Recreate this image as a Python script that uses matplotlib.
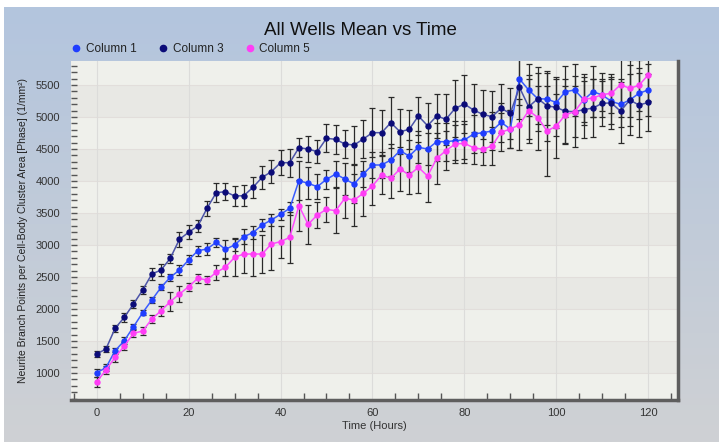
import numpy as np
import matplotlib
matplotlib.use("Agg")
import matplotlib.pyplot as plt
from matplotlib.lines import Line2D
from matplotlib.ticker import MultipleLocator

plt.rcParams['font.family'] = ['Liberation Sans', 'DejaVu Sans']

# time points (hours)
hours = np.arange(0, 122, 2)

col1 = [1005, 1083, 1348, 1505, 1723, 1942, 2141, 2339, 2495, 2609, 2766, 2911, 2937, 3042, 2933, 3000,
        3130, 3193, 3313, 3391, 3479, 3573, 4005, 3964, 3911, 4026, 4109, 4031, 3953, 4109, 4250, 4250,
        4328, 4474, 4390, 4526, 4500, 4614, 4614, 4630, 4641, 4734, 4755, 4781, 4917, 4812, 5594, 5422,
        5285, 5281, 5226, 5396, 5422, 5270, 5396, 5344, 5245, 5198, 5266, 5370, 5422]
col3 = [1297, 1375, 1698, 1870, 2078, 2297, 2547, 2609, 2792, 3089, 3198, 3297, 3573, 3817, 3833, 3766,
        3770, 3901, 4057, 4145, 4286, 4286, 4520, 4500, 4458, 4667, 4651, 4578, 4562, 4656, 4755, 4755,
        4911, 4770, 4807, 5016, 4864, 5016, 4964, 5135, 5203, 5109, 5042, 5005, 5135, 5057, 5464, 5161,
        5285, 5175, 5150, 5090, 5083, 5115, 5140, 5214, 5220, 5090, 5266, 5187, 5227]
col5 = [864, 1047, 1245, 1422, 1620, 1656, 1844, 1973, 2114, 2234, 2348, 2480, 2453, 2573, 2651, 2808,
        2859, 2859, 2859, 3016, 3052, 3120, 3614, 3323, 3469, 3557, 3536, 3729, 3703, 3807, 3922, 4094,
        4042, 4187, 4094, 4213, 4078, 4354, 4474, 4578, 4589, 4520, 4495, 4547, 4761, 4812, 4880, 5099,
        4992, 4781, 4859, 5035, 5083, 5276, 5297, 5350, 5370, 5505, 5448, 5495, 5656]

# error bar half-widths
err1 = [60, 50, 50, 50, 40, 40, 40, 50, 50, 80, 70, 80, 90, 70, 150, 90,
        120, 100, 90, 100, 90, 100, 300, 250, 200, 150, 200, 250, 300, 200, 200, 200,
        250, 300, 250, 250, 250, 300, 300, 300, 300, 300, 300, 300, 300, 300, 400, 400,
        400, 400, 400, 400, 400, 400, 400, 350, 350, 350, 400, 400, 400]
err3 = [40, 40, 50, 70, 70, 70, 90, 100, 70, 120, 110, 100, 120, 150, 130, 160,
        160, 160, 180, 180, 200, 220, 150, 200, 180, 220, 230, 220, 300, 300, 380, 350,
        400, 350, 300, 300, 350, 350, 400, 450, 450, 400, 380, 400, 380, 400, 500, 500,
        500, 550, 450, 500, 550, 450, 450, 350, 400, 500, 550, 500, 450]
err5 = [80, 60, 80, 60, 50, 70, 60, 80, 150, 120, 60, 70, 60, 120, 140, 300,
        300, 350, 300, 400, 250, 400, 400, 300, 200, 200, 350, 300, 400, 350, 300, 300,
        300, 350, 300, 400, 400, 400, 300, 300, 300, 250, 250, 300, 300, 300, 400, 500,
        500, 700, 500, 450, 400, 350, 300, 250, 300, 500, 450, 400, 400]

series = [
    ("Column 1", col1, err1, "#3a5cff", "#1f3dff"),
    ("Column 3", col3, err3, "#4c54a8", "#0b0b78"),
    ("Column 5", col5, err5, "#ff4cff", "#ff3df5"),
]

fig = plt.figure(figsize=(7.23, 4.42), dpi=100)
fig.patch.set_facecolor("white")

# gradient background panel
bg = fig.add_axes([4 / 723, 0, 715 / 723, 435 / 442])
top = np.array([179, 197, 222]) / 255
bot = np.array([207, 209, 212]) / 255
t = np.linspace(0, 1, 200)[:, None]
grad = top * (1 - t) + bot * t
bg.imshow(grad[:, None, :], aspect="auto", extent=[0, 1, 0, 1])
bg.set_axis_off()

ax = fig.add_axes([71 / 723, 42 / 442, 607 / 723, 339 / 442])
ax.set_xlim(-5.6, 126.5)
ax.set_ylim(578, 5875)

# alternating bands
ax.set_facecolor("#eff0eb")
for lo in range(1000, 5500, 1000):
    ax.axhspan(lo, lo + 500, color="#e8e8e4", zorder=0, lw=0)
for yv in range(1000, 6000, 500):
    ax.axhline(yv, color="#e2dedb", lw=0.8, zorder=0.5)
for xv in range(0, 121, 20):
    ax.axvline(xv, color="#dcdcda", lw=0.8, zorder=0.5)

for name, vals, err, lc, mc in series:
    ax.errorbar(hours, vals, yerr=err, color=lc, lw=1.1, marker="o", ms=3.6,
                mfc=mc, mec=mc, ecolor="#2a2a2a", elinewidth=0.9,
                capsize=2.5, capthick=0.9, zorder=3)

for s in ["left", "top"]:
    ax.spines[s].set_visible(False)
for s in ["bottom", "right"]:
    ax.spines[s].set_color("#5e5e5e")
    ax.spines[s].set_linewidth(2.5)

ax.xaxis.set_major_locator(MultipleLocator(20))
ax.xaxis.set_minor_locator(MultipleLocator(5))
ax.yaxis.set_major_locator(MultipleLocator(500))
ax.yaxis.set_minor_locator(MultipleLocator(100))
ax.set_yticks(range(1000, 6000, 500))
ax.tick_params(axis="x", which="major", length=0, pad=6, labelsize=8, labelcolor="#333333")
ax.tick_params(axis="x", which="minor", direction="in", length=5, color="#555555", width=1)
ax.tick_params(axis="y", which="both", direction="in", length=4, color="#555555", width=1,
               labelsize=8, labelcolor="#333333", pad=8)

ax.set_xlabel("Time (Hours)", fontsize=8, color="#333333", labelpad=2)
ax.set_ylabel("Neurite Branch Points per Cell-Body Cluster Area [Phase] (1/mm\u00b2)",
              fontsize=7.5, color="#222222")
ax.yaxis.set_label_coords(-0.071, 0.5)

fig.text(0.498, 0.932, "All Wells Mean vs Time", ha="center", va="center",
         fontsize=13.5, color="#111111")

handles = [Line2D([], [], ls="none", marker="o", ms=4.5, color=mc, mec=mc) for _, _, _, _, mc in series]
fig.legend(handles, [s[0] for s in series], loc="center left", bbox_to_anchor=(0.086, 0.889),
           ncol=3, frameon=False, fontsize=8.5, handlelength=0.6, handletextpad=0.5,
           columnspacing=1.95, labelcolor="#222222")

plt.savefig("out.png", dpi=100)
